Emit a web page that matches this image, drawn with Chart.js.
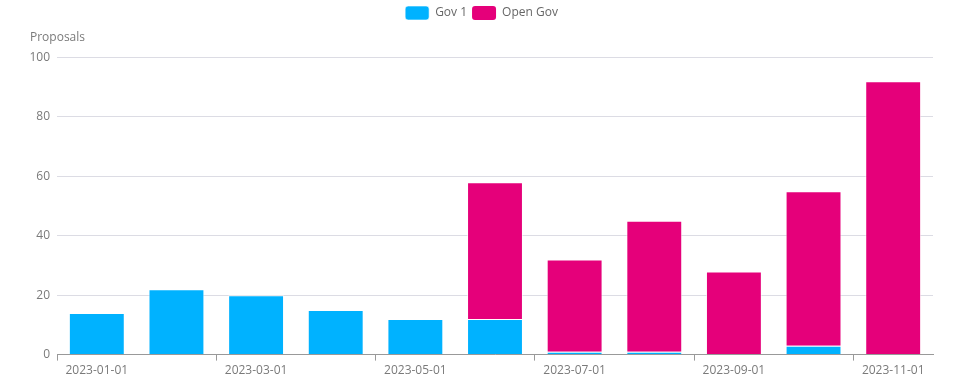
<!DOCTYPE html>
<html>
<head>
<meta charset="utf-8">
<script src="https://cdn.jsdelivr.net/npm/chart.js@4"></script>
<style>
  html, body { margin: 0; padding: 0; background: #fff; }
  #wrap { width: 972px; height: 385px; }
</style>
</head>
<body>
<div id="wrap"><canvas id="proposalsChart"></canvas></div>
<script>
const months = [
  "2023-01-01", "2023-02-01", "2023-03-01", "2023-04-01", "2023-05-01", "2023-06-01",
  "2023-07-01", "2023-08-01", "2023-09-01", "2023-10-01", "2023-11-01"
];
const gov1 = [14, 22, 20, 15, 12, 12, 1, 1, 0, 3, 0];
const openGov = [0, 0, 0, 0, 0, 46, 31, 44, 28, 52, 92];
const yTicks = [0, 20, 40, 60, 80, 100];

const textColor = "#7a7a7a";
Chart.defaults.font.family = "'Open Sans', sans-serif";
Chart.defaults.font.size = 12;
Chart.defaults.color = textColor;

const makeDataset = (label, data, color) => ({
  label: label,
  data: data,
  backgroundColor: color,
  borderColor: "rgba(255,255,255,0.6)",
  borderWidth: (ctx) => (ctx.raw === 0 ? 0 : 1),
  barPercentage: 0.78,
  categoryPercentage: 0.9,
});

new Chart(document.getElementById("proposalsChart"), {
  type: "bar",
  data: {
    labels: months,
    datasets: [
      makeDataset("Gov 1", gov1, "#00b2ff"),
      makeDataset("Open Gov", openGov, "#e5007a"),
    ],
  },
  options: {
    responsive: true,
    maintainAspectRatio: false,
    animation: false,
    layout: { padding: { left: 30, right: 39, top: 1, bottom: 4 } },
    plugins: {
      legend: {
        position: "top",
        labels: {
          boxWidth: 24,
          boxHeight: 14,
          useBorderRadius: true,
          borderRadius: 3,
          padding: 5,
          color: "#666",
        },
      },
      title: {
        display: true,
        text: "Proposals",
        align: "start",
        weight: 500,
        color: textColor,
        font: { size: 12, weight: "normal" },
        padding: { top: 0, bottom: 13 },
      },
      tooltip: { enabled: false },
    },
    scales: {
      x: {
        stacked: true,
        grid: {
          display: true,
          drawOnChartArea: false,
          drawTicks: true,
          tickLength: 6,
          color: (ctx) =>
            ctx.index % 2 === 0 || ctx.index === months.length ? "#999" : "rgba(0,0,0,0)",
          offset: true,
        },
        border: { color: "#999", width: 1 },
        ticks: {
          autoSkip: false,
          maxRotation: 0,
          callback: function (value, index) {
            return index % 2 === 0 ? months[index] : "";
          },
        },
      },
      y: {
        stacked: true,
        min: yTicks[0],
        max: yTicks[yTicks.length - 1],
        afterBuildTicks: (axis) => {
          axis.ticks = yTicks.map((v) => ({ value: v }));
        },
        afterFit: (axis) => {
          axis.width = 27;
        },
        grid: { color: "#dcdce4", drawTicks: false },
        border: { display: false },
        ticks: { padding: 7 },
      },
    },
  },
});
</script>
</body>
</html>
